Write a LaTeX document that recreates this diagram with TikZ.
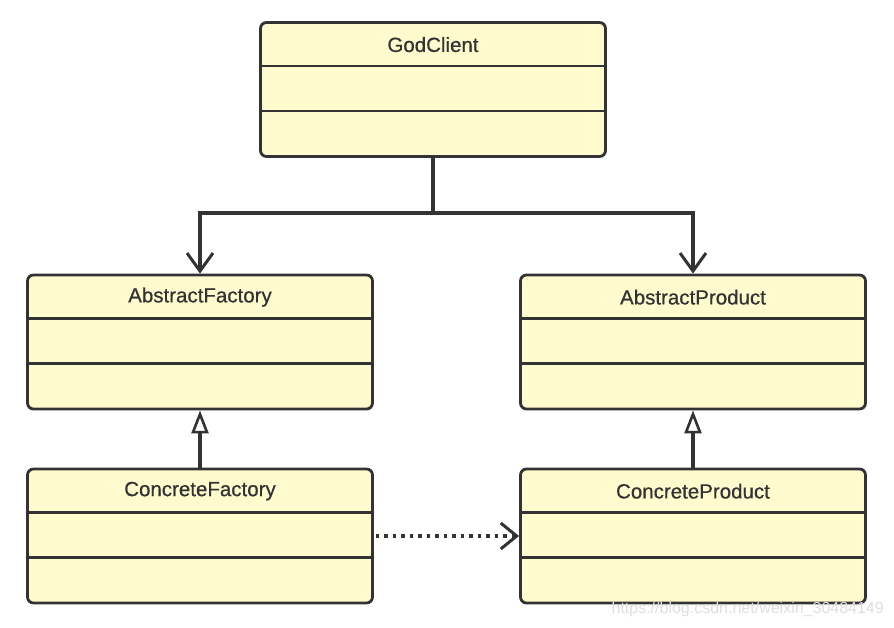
\documentclass[tikz,border=0pt]{standalone}
\usepackage{fontspec}
\setmainfont{Liberation Sans}
\newfontfamily\classfont{Liberation Sans}[FakeBold=0.6]
\usetikzlibrary{arrows.meta}

\definecolor{linec}{RGB}{51,51,51}
\definecolor{boxfill}{RGB}{255,251,206}
\definecolor{markc}{RGB}{222,222,222}

\tikzset{
  umlbox/.style={draw=linec, fill=boxfill, line width=2.8pt, rounded corners=6pt,
    minimum width=345pt, minimum height=134pt, inner sep=0pt},
  classname/.style={text=linec, font=\classfont\fontsize{20.5}{24}\selectfont, inner sep=0pt},
  divider/.style={draw=linec, line width=2.8pt},
  conn/.style={draw=linec, line width=3.4pt},
  assoc/.style={conn, -{Straight Barb[length=18pt,width=26pt,line width=3pt]}},
  inherit/.style={conn, -{Triangle[open,fill=white,length=23pt,width=17pt,line width=2.6pt]}},
  dep/.style={conn, dash pattern=on 3.5pt off 5pt,
    -{Straight Barb[length=16pt,width=26pt,line width=3pt]}},
}

% one class box: name, centre, title
\newcommand{\umlclass}[3]{
  \node[umlbox] (#1) at #2 {};
  \node[classname] (#1-title) at ([yshift=-23.5pt]#1.north) {#3};
  \draw[divider] ([yshift=-45pt]#1.north west) -- ([yshift=-45pt]#1.north east);
  \draw[divider] ([yshift=-90pt]#1.north west) -- ([yshift=-90pt]#1.north east);
}

\begin{document}
\begin{tikzpicture}[x=1pt,y=-1pt]
  \useasboundingbox (0,0) rectangle (894,628);

  % classes
  \umlclass{god}{(433,89.5)}{GodClient}
  \umlclass{af}{(200,342)}{AbstractFactory}
  \umlclass{ap}{(693,342)}{AbstractProduct}
  \umlclass{cf}{(200,536)}{ConcreteFactory}
  \umlclass{cp}{(693,536)}{ConcreteProduct}

  % connectors
  \coordinate (split) at (433,213);
  \draw[conn] (god.south) -- (split);
  \draw[assoc] (split) -| (af.north);
  \draw[assoc] (split) -| (ap.north);
  \draw[inherit] (cf.north) -- (af.south);
  \draw[inherit] (cp.north) -- (ap.south);
  \draw[dep] ([xshift=2pt]cf.east) -- (cp.west);

  % watermark
  \node[text=markc, font=\fontsize{16}{19}\selectfont, anchor=east, inner sep=0pt]
    (mark) at (884,609) {https://blog.csdn.net/weixin\_30484149};
\end{tikzpicture}
\end{document}
